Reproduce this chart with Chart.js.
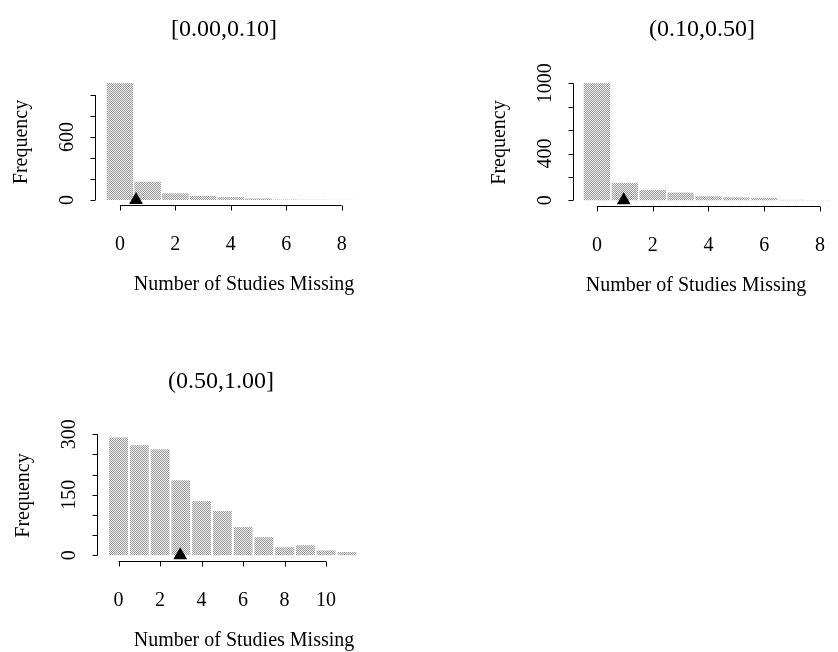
<!DOCTYPE html>
<html>
<head>
<meta charset="utf-8">
<script src="https://cdn.jsdelivr.net/npm/chart.js@4.4.1/dist/chart.umd.min.js"></script>
<style>
    body { margin: 0; background: #fff; }
    #wrap { position: relative; width: 838px; height: 652px; }
    canvas { position: absolute; }
</style>
</head>
<body>
<div id="wrap">
    <canvas id="hist1" width="419" height="326" style="left:0;top:0"></canvas>
    <canvas id="hist2" width="419" height="326" style="left:419px;top:0"></canvas>
    <canvas id="hist3" width="419" height="326" style="left:0;top:326px"></canvas>
</div>
<script>
// [0.00,0.10]
const missing1 = [0, 1, 2, 3, 4, 5, 6, 7, 8];
const freq1 = [1114, 175, 64, 40, 28, 15, 4, 2, 1];
const mean1 = 0.58;
const xTicks1 = [0, 2, 4, 6, 8];
const yTicks1 = [0, 200, 400, 600, 800, 1000];
const yLabels1 = ['0', '', '', '600', '', ''];

// (0.10,0.50]
const missing2 = [0, 1, 2, 3, 4, 5, 6, 7, 8];
const freq2 = [1002, 150, 88, 66, 34, 25, 20, 4, 2];
const mean2 = 0.96;
const xTicks2 = [0, 2, 4, 6, 8];
const yTicks2 = [0, 200, 400, 600, 800, 1000];
const yLabels2 = ['0', '', '400', '', '', '1000'];

// (0.50,1.00]
const missing3 = [0, 1, 2, 3, 4, 5, 6, 7, 8, 9, 10, 11];
const freq3 = [292, 273, 263, 186, 134, 110, 70, 45, 20, 25, 12, 8];
const mean3 = 2.97;
const xTicks3 = [0, 2, 4, 6, 8, 10];
const yTicks3 = [0, 50, 100, 150, 200, 250, 300];
const yLabels3 = ['0', '', '', '150', '', '', '300'];

const serif = '"Liberation Serif", "DejaVu Serif", serif';

// stippled grey like the old printout
function stipple(ctx) {
    const c = document.createElement('canvas');
    c.width = 2; c.height = 2;
    const g = c.getContext('2d');
    g.fillStyle = '#ececec';
    g.fillRect(0, 0, 2, 2);
    g.fillStyle = '#9c9c9c';
    g.fillRect(0, 0, 1, 1);
    g.fillRect(1, 1, 1, 1);
    return ctx.createPattern(c, 'repeat');
}

// R style axes: lines only span first..last tick, labels rotated on y
const rAxes = {
    id: 'rAxes',
    afterDraw(chart, args, o) {
        const ctx = chart.ctx;
        const xs = chart.scales.x;
        const ys = chart.scales.y;
        const a = chart.chartArea;
        ctx.save();
        ctx.strokeStyle = '#000';
        ctx.fillStyle = '#000';
        ctx.lineWidth = 1;

        const ax = Math.round(a.left) + 0.5;
        const ay = Math.round(a.bottom) + 0.5;
        ctx.beginPath();
        ctx.moveTo(ax, ys.getPixelForValue(o.yTicks[0]));
        ctx.lineTo(ax, ys.getPixelForValue(o.yTicks[o.yTicks.length - 1]));
        o.yTicks.forEach(v => {
            const p = Math.round(ys.getPixelForValue(v)) + 0.5;
            ctx.moveTo(ax, p);
            ctx.lineTo(ax - 5, p);
        });
        ctx.moveTo(xs.getPixelForValue(o.xTicks[0]), ay);
        ctx.lineTo(xs.getPixelForValue(o.xTicks[o.xTicks.length - 1]), ay);
        o.xTicks.forEach(v => {
            const p = Math.round(xs.getPixelForValue(v)) + 0.5;
            ctx.moveTo(p, ay);
            ctx.lineTo(p, ay + 5);
        });
        ctx.stroke();

        ctx.font = '20px ' + serif;
        ctx.textAlign = 'center';
        ctx.textBaseline = 'alphabetic';
        o.xTicks.forEach(v => {
            ctx.fillText(String(v), xs.getPixelForValue(v), a.bottom + 45);
        });
        ctx.fillText('Number of Studies Missing', o.xTitleX, a.bottom + 85);

        o.yTicks.forEach((v, i) => {
            if (!o.yLabels[i]) return;
            ctx.save();
            ctx.translate(a.left - 22, ys.getPixelForValue(v));
            ctx.rotate(-Math.PI / 2);
            ctx.fillText(o.yLabels[i], 0, 0);
            ctx.restore();
        });
        ctx.save();
        ctx.translate(a.left - 68, (a.top + a.bottom) / 2);
        ctx.rotate(-Math.PI / 2);
        ctx.fillText('Frequency', 0, 0);
        ctx.restore();

        ctx.font = '24px ' + serif;
        ctx.fillText(o.title, o.titleX, o.titleY);
        ctx.restore();
    }
};

function makeHist(id, missing, freq, mean, cfg) {
    const el = document.getElementById(id);
    const ctx = el.getContext('2d');
    new Chart(el, {
        type: 'bar',
        data: {
            datasets: [{
                type: 'scatter',
                order: 0,
                data: [{ x: mean, y: 0 }],
                pointStyle: 'triangle',
                pointRadius: 8,
                backgroundColor: '#000',
                borderColor: '#000',
                borderWidth: 0
            }, {
                type: 'bar',
                order: 1,
                data: missing.map((m, i) => ({ x: m, y: freq[i] })),
                backgroundColor: stipple(ctx),
                borderWidth: 0,
                categoryPercentage: 1,
                barPercentage: cfg.barPct
            }]
        },
        options: {
            responsive: false,
            animation: false,
            events: [],
            layout: { padding: cfg.pad },
            scales: {
                x: { type: 'linear', display: false, offset: false, min: cfg.xMin, max: cfg.xMax },
                y: { type: 'linear', display: false, min: cfg.yMin, max: cfg.yMax }
            },
            plugins: {
                legend: { display: false },
                tooltip: { enabled: false },
                rAxes: {
                    xTicks: cfg.xTicks,
                    yTicks: cfg.yTicks,
                    yLabels: cfg.yLabels,
                    title: cfg.title,
                    titleX: cfg.titleX,
                    titleY: cfg.titleY,
                    xTitleX: cfg.xTitleX
                }
            }
        },
        plugins: [rAxes]
    });
}

window.onload = function () {
    makeHist('hist1', missing1, freq1, mean1, {
        pad: { left: 95, top: 79, right: 25, bottom: 121 },
        xMin: -0.9, xMax: 9.89, yMin: -47.6, yMax: 1152,
        barPct: 0.96,
        xTicks: xTicks1, yTicks: yTicks1, yLabels: yLabels1,
        title: '[0.00,0.10]', titleX: 224, titleY: 36, xTitleX: 244
    });

    makeHist('hist2', missing2, freq2, mean2, {
        pad: { left: 154, top: 79, right: 8, bottom: 120 },
        xMin: -0.86, xMax: 8.36, yMin: -48.8, yMax: 1037,
        barPct: 0.95,
        xTicks: xTicks2, yTicks: yTicks2, yLabels: yLabels2,
        title: '(0.10,0.50]', titleX: 283, titleY: 36, xTitleX: 277
    });

    makeHist('hist3', missing3, freq3, mean3, {
        pad: { left: 97, top: 104, right: 19, bottom: 91 },
        xMin: -1.04, xMax: 13.56, yMin: -14.2, yMax: 310.7,
        barPct: 0.91,
        xTicks: xTicks3, yTicks: yTicks3, yLabels: yLabels3,
        title: '(0.50,1.00]', titleX: 221, titleY: 62, xTitleX: 244
    });
};
</script>
</body>
</html>
